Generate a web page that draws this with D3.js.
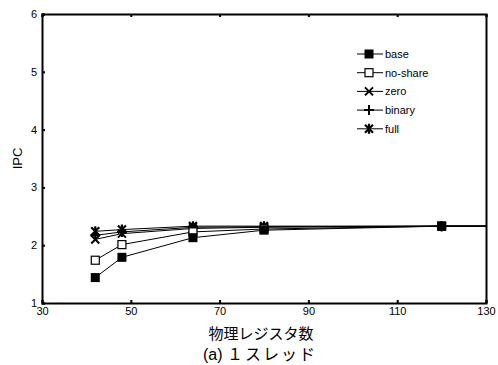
<!DOCTYPE html>
<html>
<head>
<meta charset="utf-8">
<script src="https://cdn.jsdelivr.net/npm/d3@7"></script>
<style>
  body { margin: 0; background: #fff; }
  text { font-family: "Liberation Sans", Arial, sans-serif; }
</style>
</head>
<body>
<div id="chart"></div>
<script>
// register count (x) and IPC per scheme
var regs = [42, 48, 64, 80, 120, 160];
var base    = [1.44, 1.79, 2.13, 2.26, 2.33, 2.33];
var noShare = [1.74, 2.01, 2.23, 2.28, 2.33, 2.33];
var zero    = [2.10, 2.20, 2.29, 2.31, 2.33, 2.33];
var binary  = [2.17, 2.23, 2.31, 2.32, 2.33, 2.33];
var full    = [2.24, 2.27, 2.33, 2.33, 2.33, 2.33];
var seriesNames = ["base", "no-share", "zero", "binary", "full"];
var xTicks = [30, 50, 70, 90, 110, 130];
var yTicks = [1, 2, 3, 4, 5, 6];

var margin = {top: 14, right: 12, bottom: 62, left: 42},
    width = 498 - margin.left - margin.right,
    height = 365 - margin.top - margin.bottom;

var x = d3.scaleLinear().domain([30, 130]).range([0, width]);
var y = d3.scaleLinear().domain([1, 6]).range([height, 0]);

var svg = d3.select("#chart").append("svg")
    .attr("width", 498)
    .attr("height", 365)
  .append("g")
    .attr("transform", "translate(" + margin.left + "," + margin.top + ")");

svg.append("clipPath").attr("id", "clip")
  .append("rect").attr("width", width).attr("height", height);

// axes: bottom and left with labels, top with ticks only, right plain
var xAxis = svg.append("g")
    .attr("transform", "translate(0," + height + ")")
    .call(d3.axisBottom(x).tickValues(xTicks).tickSize(-3).tickPadding(5).tickFormat(d3.format("d")));
var yAxis = svg.append("g")
    .call(d3.axisLeft(y).tickValues(yTicks).tickSize(-3).tickPadding(5).tickFormat(d3.format("d")));
var topAxis = svg.append("g")
    .call(d3.axisTop(x).tickValues(xTicks).tickSize(-3).tickFormat(""));
var rightAxis = svg.append("g")
    .attr("transform", "translate(" + width + ",0)")
    .call(d3.axisRight(y).tickValues([]).tickSize(0));

[xAxis, yAxis, topAxis, rightAxis].forEach(function(a) {
  a.select(".domain").attr("stroke", "#000").attr("stroke-width", 2);
  a.selectAll(".tick line").attr("stroke", "#000").attr("stroke-width", 2);
  a.selectAll(".tick text").style("font-size", "11px").attr("fill", "#000");
});
xAxis.selectAll(".tick text").attr("dy", "0.6em");

var data = [base, noShare, zero, binary, full].map(function(vals, i) {
  return {name: seriesNames[i], values: vals.map(function(v, j) { return {x: regs[j], y: v}; })};
});

var line = d3.line()
    .x(function(d) { return x(d.x); })
    .y(function(d) { return y(d.y); });

var plot = svg.append("g").attr("clip-path", "url(#clip)");

plot.selectAll(".line")
    .data(data)
  .enter().append("path")
    .attr("class", "line")
    .attr("d", function(d) { return line(d.values); })
    .attr("fill", "none")
    .attr("stroke", "#000")
    .attr("stroke-width", 1);

// marker drawing
function marker(g, name) {
  var s = 4;
  if (name == "base") {
    g.append("rect").attr("x", -s - 0.5).attr("y", -s - 0.5).attr("width", 2 * s + 1).attr("height", 2 * s + 1)
      .attr("fill", "#000");
  } else if (name == "no-share") {
    g.append("rect").attr("x", -s).attr("y", -s).attr("width", 2 * s).attr("height", 2 * s)
      .attr("fill", "#fff").attr("stroke", "#000").attr("stroke-width", 1.2);
  } else if (name == "zero") {
    g.append("path").attr("d", "M-4,-4L4,4M-4,4L4,-4")
      .attr("stroke", "#000").attr("stroke-width", 2);
  } else if (name == "binary") {
    g.append("path").attr("d", "M-5,0L5,0M0,-5L0,5")
      .attr("stroke", "#000").attr("stroke-width", 2);
  } else {
    g.append("path").attr("d", "M-4,-4L4,4M-4,4L4,-4M0,-5L0,5")
      .attr("stroke", "#000").attr("stroke-width", 2.2);
  }
}

// draw markers in reverse so base is on top
data.slice().reverse().forEach(function(d) {
  d.values.filter(function(p) { return p.x <= 130; }).forEach(function(p) {
    var g = plot.append("g").attr("transform", "translate(" + x(p.x) + "," + y(p.y) + ")");
    marker(g, d.name);
  });
});

// legend
var legend = svg.append("g").attr("transform", "translate(315,40)");
seriesNames.forEach(function(name, i) {
  var g = legend.append("g").attr("transform", "translate(0," + (i * 18.7) + ")");
  g.append("line").attr("x1", 0).attr("x2", 26).attr("y1", 0).attr("y2", 0)
    .attr("stroke", "#000").attr("stroke-width", 1);
  var m = g.append("g").attr("transform", "translate(12,0)");
  marker(m, name);
  g.append("text").attr("x", 28).attr("y", 0).attr("dy", "0.35em")
    .style("font-size", "11px").text(name);
});

// axis titles
svg.append("text")
    .attr("transform", "translate(-20," + (height / 2) + ") rotate(-90)")
    .attr("text-anchor", "middle")
    .style("font-size", "13px")
    .text("IPC");

svg.append("text")
    .attr("x", width / 2 - 3).attr("y", height + 36)
    .attr("text-anchor", "middle")
    .style("font-family", "'Noto Sans CJK JP', sans-serif")
    .style("font-size", "15px")
    .text("物理レジスタ数");

var cap = svg.append("text")
    .attr("x", width / 2 - 4).attr("y", height + 57)
    .attr("text-anchor", "middle")
    .style("font-size", "16px");
cap.append("tspan").text("(a) ");
cap.append("tspan")
    .style("font-family", "'Noto Sans CJK JP', sans-serif")
    .style("letter-spacing", "2px")
    .text("１スレッド");
</script>
</body>
</html>
